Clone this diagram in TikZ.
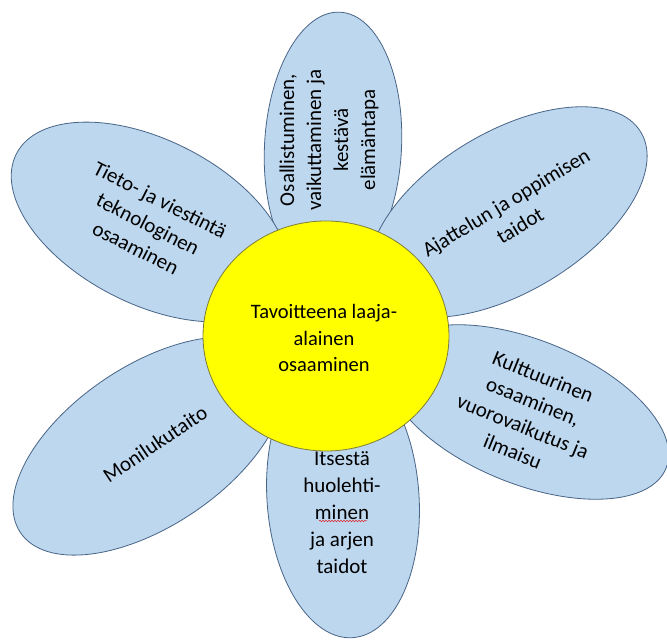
\documentclass[tikz,border=0pt]{standalone}
\usepackage{fontspec}
\setmainfont{Carlito}
\usetikzlibrary{decorations.pathmorphing}
\definecolor{petalfill}{RGB}{189,215,238}
\definecolor{petalline}{RGB}{72,100,135}
\definecolor{sunfill}{RGB}{255,255,0}
\definecolor{sunline}{RGB}{125,125,60}
\definecolor{spellred}{RGB}{220,40,40}
\tikzset{
  petal/.style={fill=petalfill, draw=petalline, line width=0.8pt},
  sun/.style={fill=sunfill, draw=sunline, line width=0.8pt},
  petaltext/.style={align=center, font=\fontsize{21}{27}\selectfont, text=black, inner sep=0pt},
  suntext/.style={align=center, font=\fontsize{20.5}{26.5}\selectfont, text=black, inner sep=0pt}
}
\begin{document}
\begin{tikzpicture}[x=1pt,y=1pt]
\useasboundingbox (0,0) rectangle (667,642);
\fill[white] (0,0) rectangle (667,642);
% petals
\draw[petal, rotate around={-3:(333,495)}] (333,495) ellipse [x radius=68.5pt, y radius=135pt];
\draw[petal, rotate around={-27:(150,420)}] (150,420) ellipse [x radius=150pt, y radius=82pt];
\draw[petal, rotate around={31:(508,430)}] (508,430) ellipse [x radius=155pt, y radius=80pt];
\draw[petal, rotate around={34:(149,196)}] (149,196) ellipse [x radius=155pt, y radius=80pt];
\draw[petal, rotate around={4:(343,144)}] (343,144) ellipse [x radius=76pt, y radius=140pt];
\draw[petal, rotate around={-22:(527,230)}] (527,230) ellipse [x radius=150pt, y radius=72pt];
% centre
\draw[sun] (326,306) ellipse [x radius=123pt, y radius=115pt];
% texts
\node[suntext] (c) at (324,304) {Tavoitteena laaja-\\alainen\\osaaminen};
\node[petaltext, rotate=90] (top) at (329,502) {Osallistuminen,\\vaikuttaminen ja\\kestävä\\elämäntapa};
\node[petaltext, rotate=-27] (ul) at (148,418) {Tieto- ja viestintä\\teknologinen\\osaaminen};
\node[petaltext, rotate=31] (ur) at (513,428) {Ajattelun ja oppimisen\\taidot};
\node[petaltext, rotate=-22] (lr) at (528,228) {Kulttuurinen\\osaaminen,\\vuorovaikutus ja\\ilmaisu};
\node[petaltext, rotate=34] (ll) at (155,198) {Monilukutaito};
\node[petaltext] (bot) at (342,129) {Itsestä\\huolehti-\\minen\\ja arjen\\taidot};
% spell-check underline under "minen"
\coordinate (sq1) at (319,121);
\coordinate (sq2) at (367,121);
\draw[spellred, line width=0.5pt, decorate, decoration={snake, amplitude=0.8pt, segment length=3pt}] (sq1) -- (sq2);
\end{tikzpicture}
\end{document}
